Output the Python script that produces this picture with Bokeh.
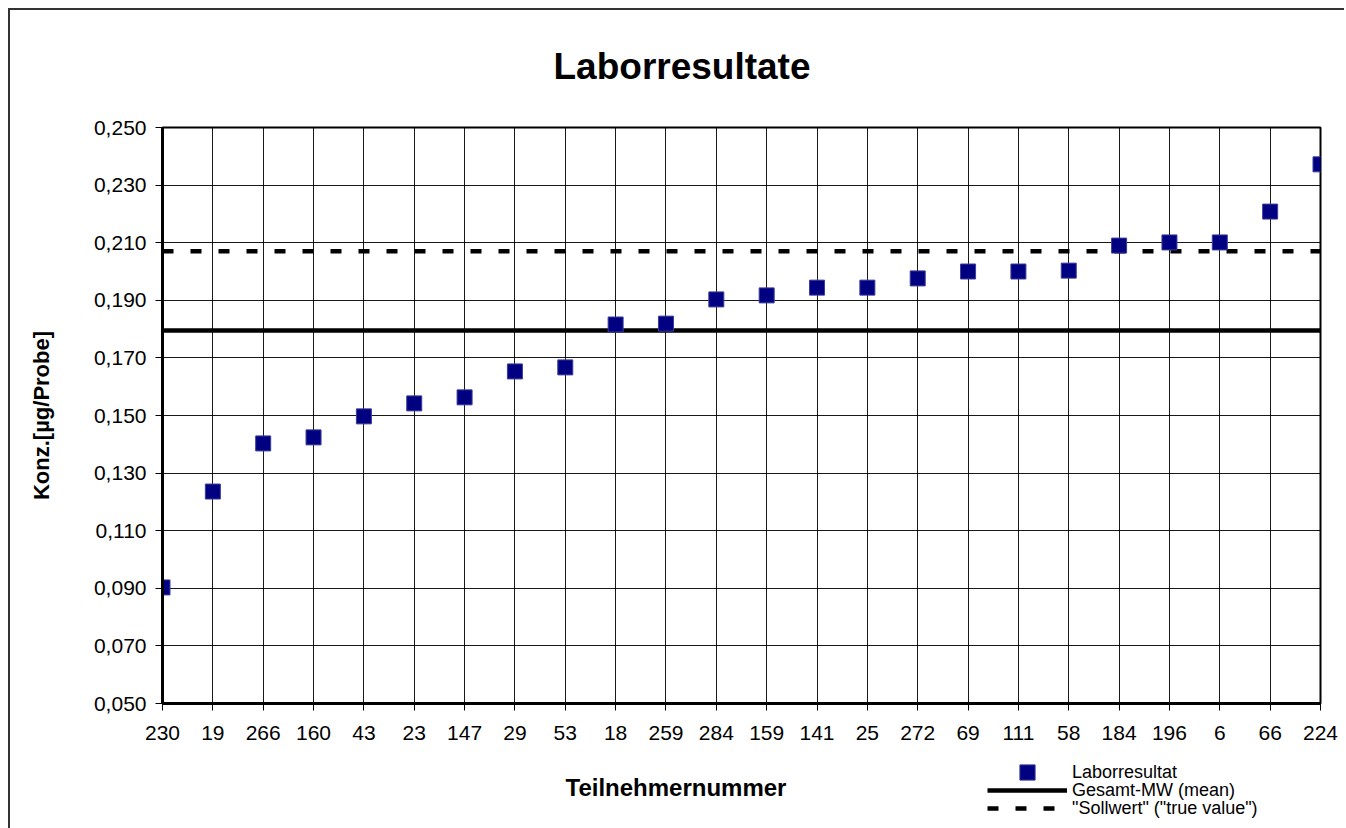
from bokeh.plotting import figure
from bokeh.layouts import column
from bokeh.models import Range1d, FixedTicker, Legend, LegendItem, Label
from bokeh.embed import file_html
from bokeh.resources import INLINE

# ---- data ----
teilnehmer = ["230", "19", "266", "160", "43", "23", "147", "29", "53", "18", "259", "284",
              "159", "141", "25", "272", "69", "111", "58", "184", "196", "6", "66", "224"]
laborresultat = [0.0903, 0.1236, 0.1403, 0.1424, 0.1497, 0.1542, 0.1563, 0.1653, 0.1667,
                 0.1816, 0.1819, 0.1903, 0.1917, 0.1944, 0.1944, 0.1976, 0.2000, 0.2000,
                 0.2003, 0.2090, 0.2101, 0.2101, 0.2208, 0.2372]
gesamt_mw = 0.1795
sollwert = 0.207
y_ticks = [0.05, 0.07, 0.09, 0.11, 0.13, 0.15, 0.17, 0.19, 0.21, 0.23, 0.25]
y_tick_labels = ["0,050", "0,070", "0,090", "0,110", "0,130", "0,150", "0,170",
                 "0,190", "0,210", "0,230", "0,250"]
legend_labels = ["Laborresultat", "Gesamt-MW (mean)", '"Sollwert" ("true value")']

FONT = "Liberation Sans"
idx = list(range(len(teilnehmer)))
first, last = idx[0], idx[-1]

PT_STYLE = dict(marker="square", size=15, fill_color="#000080", line_color="#3c3c9c", line_width=1)
MEAN_STYLE = dict(line_color="black", line_width=4.5)
SOLL_STYLE = dict(line_color="black", line_width=4.5, line_dash="11 17")


def strip(height, styles):
    s = figure(width=1336, height=height, output_backend="svg", toolbar_location=None,
               x_axis_type=None, y_axis_type=None,
               x_range=Range1d(last + 100, last + 101), y_range=Range1d(1, 2),
               min_border_left=0, min_border_right=0, min_border_top=0, min_border_bottom=0,
               title=None)
    s.styles = styles
    s.outline_line_color = None
    s.background_fill_color = "white"
    s.border_fill_color = "white"
    return s


# ---------------- top strip: title ----------------
t = strip(100, {"margin-left": "8px", "margin-top": "8px",
                "border-left": "2px solid #333", "border-top": "2px solid #333"})
t.add_layout(Label(x=391, y=44, x_units="screen", y_units="screen", text="Laborresultate",
                   text_font=FONT, text_font_size="37px", text_font_style="bold",
                   text_color="black", text_align="left", text_baseline="middle"))

# ---------------- main chart ----------------
p = figure(width=1336, height=654, output_backend="svg", toolbar_location=None,
           x_range=Range1d(first, last), y_range=Range1d(y_ticks[0], y_ticks[-1]),
           min_border_left=152, min_border_right=26, min_border_top=19,
           min_border_bottom=59, title=None)
p.styles = {"margin-left": "8px", "border-left": "2px solid #333"}
p.background_fill_color = "white"
p.border_fill_color = "white"
p.outline_line_color = "black"
p.outline_line_width = 2

for ax in (p.xaxis[0], p.yaxis[0]):
    ax.axis_line_color = "black"
    ax.axis_line_width = 3
    ax.major_tick_line_color = "black"
    ax.major_tick_line_width = 1
    ax.major_tick_out = 7
    ax.major_tick_in = 0
    ax.minor_tick_line_color = None
    ax.major_label_text_font = FONT
    ax.major_label_text_font_size = "21px"
    ax.major_label_text_color = "black"

p.xaxis.ticker = FixedTicker(ticks=idx)
p.xaxis.major_label_overrides = {i: t_ for i, t_ in zip(idx, teilnehmer)}
p.xaxis.major_label_standoff = 15

p.yaxis.ticker = FixedTicker(ticks=y_ticks)
p.yaxis.major_label_overrides = {v: t_ for v, t_ in zip(y_ticks, y_tick_labels)}
p.yaxis.major_label_standoff = 9
p.yaxis.axis_label = "Konz.[µg/Probe]"
p.yaxis.axis_label_text_font = FONT
p.yaxis.axis_label_text_font_size = "22px"
p.yaxis.axis_label_text_font_style = "bold"
p.yaxis.axis_label_text_color = "black"
p.yaxis.axis_label_standoff = 37

p.xgrid.ticker = FixedTicker(ticks=idx)
p.ygrid.ticker = FixedTicker(ticks=y_ticks)
p.grid.grid_line_color = "black"
p.grid.grid_line_width = 1
p.grid.grid_line_alpha = 0.9

p.line(x=[first, last], y=[gesamt_mw, gesamt_mw], **MEAN_STYLE)
p.line(x=[first, last], y=[sollwert, sollwert], **SOLL_STYLE)
p.scatter(x=idx, y=laborresultat, **PT_STYLE)

# ---------------- bottom strip: x label + legend ----------------
q = strip(66, {"margin-left": "8px", "border-left": "2px solid #333"})

# legend proxies (same series, outside the strip's visible range)
q_pts = q.scatter(x=idx, y=laborresultat, **PT_STYLE)
q_mean = q.line(x=[first, last], y=[gesamt_mw, gesamt_mw], **MEAN_STYLE)
q_soll = q.line(x=[first, last], y=[sollwert, sollwert], **SOLL_STYLE)

q.add_layout(Label(x=403, y=41, x_units="screen", y_units="screen", text="Teilnehmernummer",
                   text_font=FONT, text_font_size="24px", text_font_style="bold",
                   text_color="black", text_align="left", text_baseline="middle"))

for lab, rend, vy in zip(legend_labels, [q_pts, q_mean, q_soll], [37, 19, 1]):
    lg = Legend(items=[LegendItem(label=lab, renderers=[rend])],
                location=(825, vy), margin=0, padding=0, spacing=0,
                glyph_width=80, glyph_height=38, label_height=16, label_standoff=5,
                label_text_font=FONT, label_text_font_size="18px", label_text_color="black",
                border_line_color=None, background_fill_alpha=0)
    q.add_layout(lg, "center")

layout = column(t, p, q, spacing=0)
open("out.html", "w").write(file_html(layout, INLINE))
